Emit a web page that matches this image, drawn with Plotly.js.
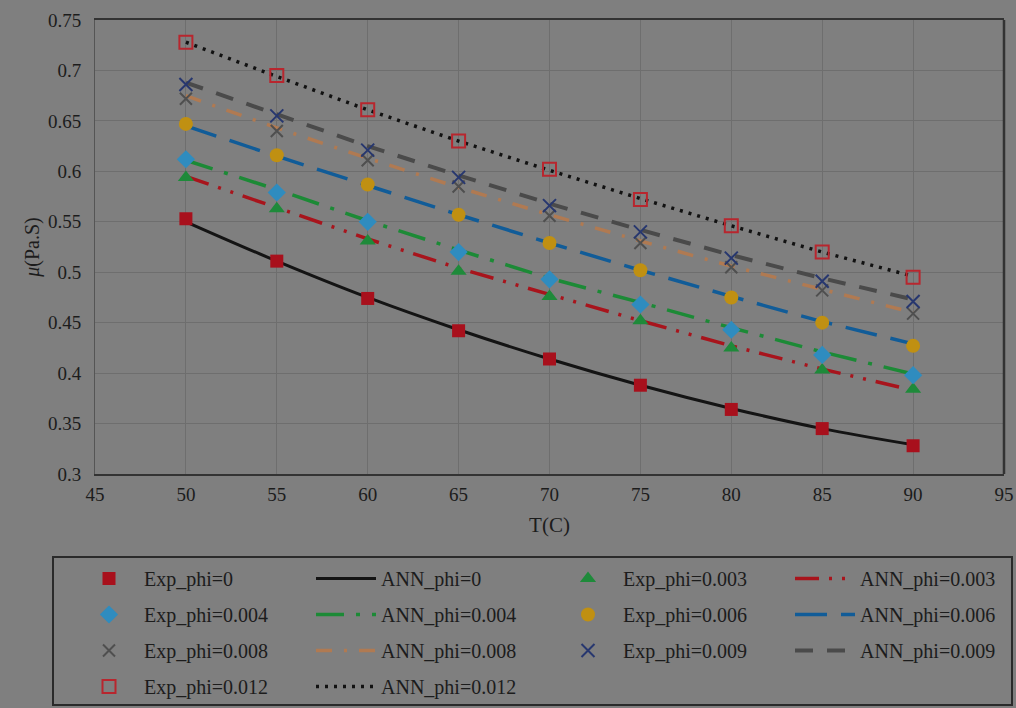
<!DOCTYPE html>
<html><head><meta charset="utf-8">
<script src="https://cdn.plot.ly/plotly-3.0.1.min.js"></script>
<style>html,body{margin:0;padding:0;background:#7f7f7f;}#chart{width:1016px;height:708px;}</style>
</head><body><div id="chart"></div>
<script>
const T = [50, 55, 60, 65, 70, 75, 80, 85, 90];
const expPhi0    = [0.553, 0.511, 0.474, 0.442, 0.414, 0.388, 0.364, 0.345, 0.328];
const expPhi003  = [0.594, 0.563, 0.531, 0.501, 0.476, 0.452, 0.425, 0.403, 0.384];
const expPhi004  = [0.612, 0.579, 0.550, 0.520, 0.493, 0.468, 0.443, 0.418, 0.398];
const expPhi006  = [0.647, 0.616, 0.587, 0.557, 0.529, 0.502, 0.475, 0.450, 0.427];
const expPhi008  = [0.672, 0.640, 0.611, 0.585, 0.556, 0.529, 0.505, 0.482, 0.459];
const expPhi009  = [0.686, 0.655, 0.621, 0.594, 0.566, 0.540, 0.514, 0.491, 0.471];
const expPhi012  = [0.728, 0.695, 0.661, 0.630, 0.602, 0.572, 0.546, 0.520, 0.495];
const annPhi0    = [0.550, 0.511, 0.475, 0.443, 0.414, 0.388, 0.365, 0.345, 0.329];
const annPhi003  = [0.595, 0.564, 0.533, 0.504, 0.478, 0.452, 0.427, 0.404, 0.383];
const annPhi004  = [0.611, 0.582, 0.551, 0.522, 0.494, 0.470, 0.445, 0.421, 0.399];
const annPhi006  = [0.645, 0.615, 0.586, 0.557, 0.529, 0.502, 0.476, 0.451, 0.429];
const annPhi008  = [0.675, 0.643, 0.613, 0.584, 0.557, 0.531, 0.506, 0.483, 0.460];
const annPhi009  = [0.688, 0.656, 0.625, 0.596, 0.568, 0.542, 0.517, 0.494, 0.473];
const annPhi012  = [0.728, 0.694, 0.661, 0.630, 0.601, 0.573, 0.546, 0.520, 0.496];
const xTicks = [45, 50, 55, 60, 65, 70, 75, 80, 85, 90, 95];

const FONT = '"Liberation Serif", "Times New Roman", serif';
function expTr(name, y, symbol, color, size, lg, lineW) {
  return {x: T, y: y, name: name, mode: 'markers', type: 'scatter', legend: lg, legendgroup: name,
    marker: {symbol: symbol, size: size, color: color, line: {color: color, width: lineW || 0}}};
}
function annTr(name, y, color, dash, width, lg, shape) {
  return {x: T, y: y, name: name, mode: 'lines', type: 'scatter', legend: lg, legendgroup: name,
    line: {color: color, dash: dash, width: width, shape: shape || 'linear'}};
}
const traces = [
  annTr('ANN_phi=0', annPhi0, '#141414', 'solid', 3, 'legend2', 'spline'),
  annTr('ANN_phi=0.003', annPhi003, '#a8141c', '24px,10px,3px,10px,3px,10px', 3.5, 'legend4'),
  annTr('ANN_phi=0.004', annPhi004, '#1c8a36', '28px,12px,4px,12px', 3.5, 'legend2'),
  annTr('ANN_phi=0.006', annPhi006, '#115c98', '32px,14px', 3.5, 'legend4'),
  annTr('ANN_phi=0.008', annPhi008, '#b07a52', '16px,12px,3px,12px', 3.5, 'legend2'),
  annTr('ANN_phi=0.009', annPhi009, '#4a4a4a', '18px,14px', 4, 'legend4'),
  annTr('ANN_phi=0.012', annPhi012, '#111111', '3px,6px', 3.5, 'legend2'),
  expTr('Exp_phi=0', expPhi0, 'square', '#a8101c', 13, 'legend'),
  expTr('Exp_phi=0.003', expPhi003, 'triangle-up', '#1e8a3a', 14, 'legend3'),
  expTr('Exp_phi=0.004', expPhi004, 'diamond', '#2f8cbf', 14, 'legend'),
  expTr('Exp_phi=0.006', expPhi006, 'circle', '#c09012', 14, 'legend3'),
  expTr('Exp_phi=0.008', expPhi008, 'x-thin-open', '#4f4f4f', 12, 'legend', 2),
  expTr('Exp_phi=0.009', expPhi009, 'x-thin-open', '#27376f', 13, 'legend3', 2),
  expTr('Exp_phi=0.012', expPhi012, 'square-open', '#b8262e', 13, 'legend', 2)
];
const order = {'Exp_phi=0':1,'Exp_phi=0.004':2,'Exp_phi=0.008':3,'Exp_phi=0.012':4,
  'ANN_phi=0':1,'ANN_phi=0.004':2,'ANN_phi=0.008':3,'ANN_phi=0.012':4,
  'Exp_phi=0.003':1,'Exp_phi=0.006':2,'Exp_phi=0.009':3,
  'ANN_phi=0.003':1,'ANN_phi=0.006':2,'ANN_phi=0.009':3};
traces.forEach(t => t.legendrank = order[t.name]);

const L = 95, R = 1004, TOP = 20, BOT = 474;
const W = R - L, H = BOT - TOP;
const px = v => (v - L) / W, py = v => (BOT - v) / H;
function leg(xpix) {
  return {x: px(xpix), y: py(559), xanchor: 'left', yanchor: 'top', orientation: 'v',
    bgcolor: 'rgba(0,0,0,0)', borderwidth: 0, tracegroupgap: 7, itemwidth: 60,
    font: {family: FONT, size: 20, color: '#1c1c1c'}};
}
const layout = {
  width: 1016, height: 708,
  paper_bgcolor: '#7f7f7f', plot_bgcolor: '#7f7f7f',
  margin: {l: L, r: 1016 - R, t: TOP, b: 708 - BOT, autoexpand: false},
  font: {family: FONT, color: '#1c1c1c', size: 19},
  xaxis: {range: [45, 95], tickvals: xTicks, ticks: '', showgrid: true, gridcolor: '#6e6e6e', gridwidth: 1,
    showline: true, linecolor: '#333333', linewidth: 2, mirror: true, zeroline: false, ticklabelstandoff: 2,
    tickfont: {family: FONT, size: 19, color: '#1c1c1c'},
    title: {text: 'T(C)', font: {family: FONT, size: 21, color: '#1c1c1c'}, standoff: 14}},
  yaxis: {range: [0.3, 0.75], dtick: 0.05, tick0: 0.3, ticks: 'outside', ticklen: 9, tickcolor: 'rgba(0,0,0,0)',
    showgrid: true, gridcolor: '#6e6e6e', gridwidth: 1,
    showline: true, linecolor: '#555555', linewidth: 1, zeroline: false,
    tickfont: {family: FONT, size: 19, color: '#1c1c1c'},
    title: {text: '<i>μ</i>(Pa.S)', font: {family: FONT, size: 20, color: '#1c1c1c'}, standoff: 2}},
  showlegend: true,
  legend: leg(74), legend2: leg(311), legend3: leg(553), legend4: leg(790),
  shapes: [
    {type: 'line', xref: 'paper', yref: 'paper', x0: 1, x1: 1, y0: 0, y1: 1, line: {color: '#333333', width: 2.5}},
    {type: 'rect', xref: 'paper', yref: 'paper', x0: px(53), x1: px(1012), y0: py(557), y1: py(705),
     line: {color: '#2a2a2a', width: 2}}
  ]
};
Plotly.newPlot('chart', traces, layout, {displayModeBar: false, staticPlot: true});
</script></body></html>
